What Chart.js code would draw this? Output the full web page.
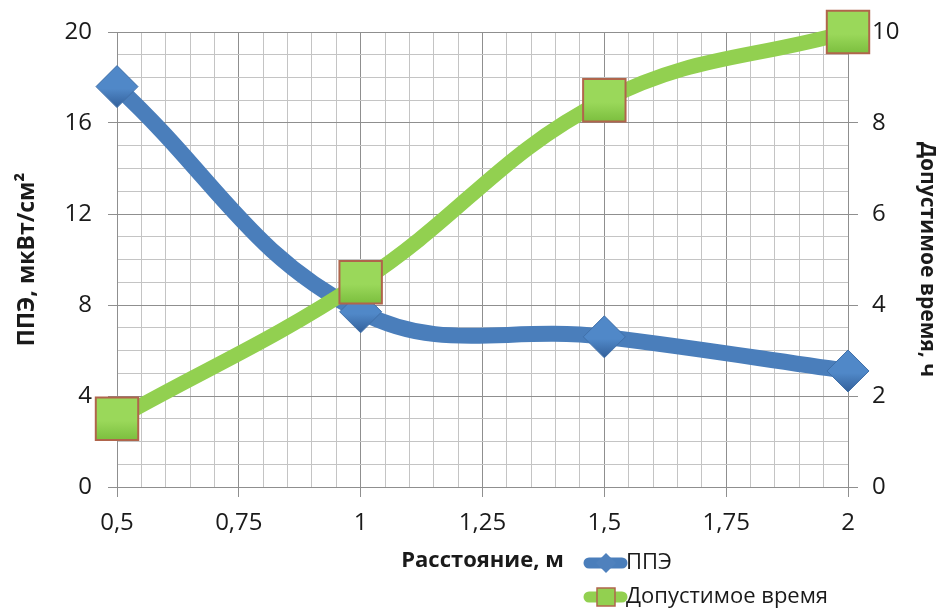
<!DOCTYPE html>
<html>
<head>
<meta charset="utf-8">
<script src="https://cdn.jsdelivr.net/npm/chart.js@4/dist/chart.umd.min.js"></script>
<style>
  html, body { margin: 0; padding: 0; background: #fff; }
  #wrap { width: 940px; height: 610px; position: relative; }
</style>
</head>
<body>
<div id="wrap"><canvas id="myChart" width="940" height="610"></canvas></div>
<script>
// distance, m
const distance = [0.5, 1, 1.5, 2];
// ППЭ, мкВт/см2
const ppe = [17.6, 7.7, 6.6, 5.1];
// допустимое время, ч
const allowedTime = [1.5, 4.5, 8.5, 10];

const xTitle = 'Расстояние, м';
const leftTitle = 'ППЭ, мкВт/см²';
const rightTitle = 'Допустимое время, ч';
const seriesNames = ['ППЭ', 'Допустимое время'];

const blue = '#4a7ebb';
const green = '#92d050';
const majorGrid = '#8f8f8f';
const minorGrid = '#c4c4c4';
const font = 'Open Sans';

function isMultiple(v, step) {
    const k = v / step;
    return Math.abs(k - Math.round(k)) < 1e-6;
}

function commaNum(v) {
    return String(Math.round(v * 100) / 100).replace('.', ',');
}

// shaded fill for the markers, built around the point's pixel position
function markerFill(c, axisId, light, dark, r) {
    const chart = c.chart;
    if (!c.parsed || !chart.scales.x || !chart.scales[axisId]) return light;
    const px = chart.scales.x.getPixelForValue(c.parsed.x);
    const py = chart.scales[axisId].getPixelForValue(c.parsed.y);
    if (!isFinite(px) || !isFinite(py)) return light;
    const g = chart.ctx.createLinearGradient(px, py - r, px, py + r);
    g.addColorStop(0, light);
    g.addColorStop(0.55, light);
    g.addColorStop(1, dark);
    return g;
}

// legend sits next to the x axis title, two rows
const sideLegend = {
    id: 'sideLegend',
    afterDraw(chart) {
        const ctx = chart.ctx;
        const rows = [
            { y: 563, color: blue, style: 'diamond', label: seriesNames[0] },
            { y: 597, color: green, style: 'square', label: seriesNames[1] }
        ];
        ctx.save();
        rows.forEach(function (r) {
            ctx.strokeStyle = r.color;
            ctx.lineWidth = 11;
            ctx.lineCap = 'round';
            ctx.beginPath();
            ctx.moveTo(589, r.y);
            ctx.lineTo(622, r.y);
            ctx.stroke();
            if (r.style === 'diamond') {
                ctx.fillStyle = '#4f81bd';
                ctx.beginPath();
                ctx.moveTo(606, r.y - 10);
                ctx.lineTo(616, r.y);
                ctx.lineTo(606, r.y + 10);
                ctx.lineTo(596, r.y);
                ctx.closePath();
                ctx.fill();
            } else {
                ctx.fillStyle = green;
                ctx.strokeStyle = '#b0654c';
                ctx.lineWidth = 1.5;
                ctx.fillRect(597, r.y - 9, 18, 18);
                ctx.strokeRect(597, r.y - 9, 18, 18);
            }
            ctx.fillStyle = '#1a1a1a';
            ctx.font = '22px "' + font + '"';
            ctx.textBaseline = 'middle';
            ctx.textAlign = 'left';
            ctx.fillText(r.label, 626, r.y);
        });
        ctx.restore();
    }
};

const ctx = document.getElementById('myChart').getContext('2d');
const myChart = new Chart(ctx, {
    type: 'line',
    data: {
        datasets: [
            {
                label: seriesNames[0],
                data: distance.map(function (d, i) { return { x: d, y: ppe[i] }; }),
                yAxisID: 'y',
                borderColor: blue,
                borderWidth: 16,
                tension: 0.4,
                pointStyle: 'rectRot',
                pointRadius: 21,
                pointBackgroundColor: function (c) { return markerFill(c, 'y', '#5088c8', '#33609a', 21); },
                pointBorderColor: '#3f6fa8',
                pointBorderWidth: 1,
                clip: false,
                order: 1
            },
            {
                label: seriesNames[1],
                data: distance.map(function (d, i) { return { x: d, y: allowedTime[i] }; }),
                yAxisID: 'y1',
                borderColor: green,
                borderWidth: 15,
                tension: 0.4,
                pointStyle: 'rect',
                pointRadius: 30,
                pointBackgroundColor: function (c) { return markerFill(c, 'y1', '#9ad85a', '#7cbf3f', 21); },
                pointBorderColor: '#b0654c',
                pointBorderWidth: 2,
                clip: false,
                order: 0
            }
        ]
    },
    options: {
        responsive: false,
        animation: false,
        layout: { padding: { top: 32, left: 0, right: 0, bottom: 0 } },
        plugins: {
            legend: { display: false },
            tooltip: { enabled: false }
        },
        scales: {
            x: {
                type: 'linear',
                min: 0.5,
                max: 2,
                afterFit: function (s) { s.height = 123; },
                ticks: {
                    stepSize: 0.05,
                    autoSkip: false,
                    maxRotation: 0,
                    padding: 12,
                    color: '#1a1a1a',
                    font: { family: font, size: 24 },
                    callback: function (v) { return isMultiple(v, 0.25) ? commaNum(v) : ''; }
                },
                grid: {
                    tickLength: 10,
                    color: function (c) { return isMultiple(c.tick.value, 0.25) ? majorGrid : minorGrid; },
                    tickColor: function (c) { return isMultiple(c.tick.value, 0.25) ? majorGrid : 'rgba(0,0,0,0)'; }
                },
                border: { color: majorGrid },
                title: {
                    display: true,
                    text: xTitle,
                    color: '#1a1a1a',
                    font: { family: font, size: 22, weight: 'bold' },
                    padding: { top: 0, bottom: 36 }
                }
            },
            y: {
                position: 'left',
                min: 0,
                max: 20,
                afterFit: function (s) { s.width = 117; },
                ticks: {
                    stepSize: 1,
                    autoSkip: false,
                    padding: 16,
                    color: '#1a1a1a',
                    font: { family: font, size: 24 },
                    callback: function (v) { return isMultiple(v, 4) ? v : ''; }
                },
                grid: {
                    tickLength: 9,
                    color: function (c) { return isMultiple(c.tick.value, 4) ? majorGrid : minorGrid; },
                    tickColor: function (c) { return isMultiple(c.tick.value, 4) ? majorGrid : 'rgba(0,0,0,0)'; }
                },
                border: { color: majorGrid },
                title: {
                    display: true,
                    text: leftTitle,
                    color: '#1a1a1a',
                    font: { family: font, size: 23, weight: 'bold' },
                    padding: { top: 14, bottom: 0 }
                }
            },
            y1: {
                position: 'right',
                min: 0,
                max: 10,
                afterFit: function (s) { s.width = 92; },
                ticks: {
                    stepSize: 2,
                    padding: 14,
                    color: '#1a1a1a',
                    font: { family: font, size: 24 }
                },
                grid: {
                    drawOnChartArea: false,
                    tickLength: 10,
                    tickColor: majorGrid
                },
                border: { color: majorGrid },
                title: {
                    display: true,
                    text: rightTitle,
                    color: '#1a1a1a',
                    font: { family: font, size: 21, weight: 'bold' },
                    padding: { top: 0, bottom: 0 }
                }
            }
        }
    },
    plugins: [sideLegend]
});
</script>
</body>
</html>
